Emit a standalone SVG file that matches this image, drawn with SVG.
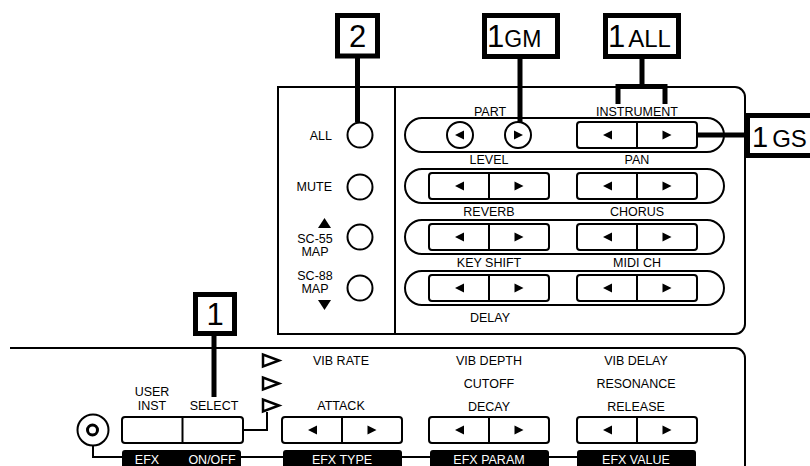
<svg xmlns="http://www.w3.org/2000/svg" xmlns:xlink="http://www.w3.org/1999/xlink" width="810" height="466" viewBox="0 0 810 466">
<style>
.pl{fill:none;stroke:#000;stroke-width:2}
.pf{fill:#fff;stroke:#000;stroke-width:2}
.t{font-family:"Liberation Sans",Arial,sans-serif;font-size:12.5px;fill:#000}
.m{text-anchor:middle}
.e{text-anchor:end}
.cb{fill:#fff;stroke:#000;stroke-width:5}
.ct{font-family:"Liberation Sans",Arial,sans-serif;fill:#000}
.cl{fill:none;stroke:#000;stroke-width:5}
.ln{fill:none;stroke:#000;stroke-width:2}
.bar{fill:#000}
.bt{font-family:"Liberation Sans",Arial,sans-serif;font-size:12.5px;fill:#fff;text-anchor:middle}
.tri{fill:#fff;stroke:#000;stroke-width:2.5;stroke-linejoin:miter}
</style>
<defs>
<g id="pair">
<rect x="0" y="0" width="120" height="26" rx="3" class="pf"/>
<line x1="60" y1="0" x2="60" y2="26" class="pl"/>
<polygon points="26,13 35,8.5 35,17.5" fill="#000"/>
<polygon points="94.5,13 85.5,8.5 85.5,17.5" fill="#000"/>
</g>
<rect id="pill" x="0" y="-17" width="319" height="34" rx="17" class="pl"/>
</defs>
<rect width="810" height="466" fill="#fff"/>

<g id="upper-panel">
<path d="M278,87 H735 A10,10 0 0 1 745,97 V324 A10,10 0 0 1 735,334 H278 Z" class="pl"/>
<line x1="395" y1="87" x2="395" y2="334" class="pl"/>
</g>

<g id="left-buttons">
<g id="btn-all"><text x="332" y="140" class="t e">ALL</text><circle cx="360" cy="135" r="12.5" class="pf"/></g>
<g id="btn-mute"><text x="332" y="191" class="t e">MUTE</text><circle cx="360" cy="187" r="12.5" class="pf"/></g>
<g id="btn-sc55"><polygon points="318,228 331,228 324.5,218" fill="#000"/><text x="315" y="243" class="t m">SC-55</text><text x="315" y="255.5" class="t m">MAP</text><circle cx="360" cy="237" r="12.5" class="pf"/></g>
<g id="btn-sc88"><text x="315" y="280" class="t m">SC-88</text><text x="315" y="293" class="t m">MAP</text><polygon points="318,300 331,300 324.5,310" fill="#000"/><circle cx="360" cy="288" r="12.5" class="pf"/></g>
</g>

<g id="row1">
<text x="490" y="116" class="t m">PART</text>
<text x="637" y="116" class="t m">INSTRUMENT</text>
<use xlink:href="#pill" x="405" y="135"/>
<circle cx="460" cy="135" r="13" class="pf"/>
<polygon points="455,135 464,130.5 464,139.5" fill="#000"/>
<circle cx="518" cy="135" r="13" class="pf"/>
<polygon points="523,135 514,130.5 514,139.5" fill="#000"/>
<use xlink:href="#pair" x="577" y="122"/>
</g>
<g id="row2">
<text x="489" y="164" class="t m">LEVEL</text>
<text x="637" y="164" class="t m">PAN</text>
<use xlink:href="#pill" x="405" y="186"/>
<use xlink:href="#pair" x="429" y="173"/>
<use xlink:href="#pair" x="577" y="173"/>
</g>
<g id="row3">
<text x="489" y="216" class="t m">REVERB</text>
<text x="637" y="216" class="t m">CHORUS</text>
<use xlink:href="#pill" x="405" y="237"/>
<use xlink:href="#pair" x="429" y="224"/>
<use xlink:href="#pair" x="577" y="224"/>
</g>
<g id="row4">
<text x="489" y="267" class="t m">KEY SHIFT</text>
<text x="637" y="267" class="t m">MIDI CH</text>
<use xlink:href="#pill" x="405" y="288"/>
<use xlink:href="#pair" x="429" y="275"/>
<use xlink:href="#pair" x="577" y="275"/>
<text x="490" y="322" class="t m">DELAY</text>
</g>

<g id="lower-panel">
<path d="M10,348 H735 A10,10 0 0 1 745,358 V470" class="pl"/>
</g>

<g id="knob">
<circle cx="93" cy="430" r="15.5" class="pf"/>
<circle cx="92.5" cy="430" r="5" fill="none" stroke="#000" stroke-width="3"/>
</g>

<g id="user-select">
<text x="152" y="396" class="t m">USER</text>
<text x="152" y="410" class="t m">INST</text>
<text x="214" y="410" class="t m">SELECT</text>
<rect x="122" y="417" width="121" height="26" rx="3" class="pf"/>
<line x1="182.5" y1="417" x2="182.5" y2="443" class="pl"/>
</g>

<g id="indicators">
<polygon points="263,354.5 263,366.5 279,360.5" class="tri"/>
<polygon points="263,377.5 263,389.5 279,383.5" class="tri"/>
<polygon points="263,399.5 263,411.5 279,405.5" class="tri"/>
</g>

<g id="efx-type">
<text x="341" y="365" class="t m">VIB RATE</text>
<text x="341" y="410" class="t m">ATTACK</text>
<use xlink:href="#pair" x="282" y="417"/>
</g>
<g id="efx-param">
<text x="489" y="365" class="t m">VIB DEPTH</text>
<text x="489" y="388" class="t m">CUTOFF</text>
<text x="489" y="411" class="t m">DECAY</text>
<use xlink:href="#pair" x="429" y="417"/>
</g>
<g id="efx-value">
<text x="636" y="365" class="t m">VIB DELAY</text>
<text x="636" y="388" class="t m">RESONANCE</text>
<text x="636" y="411" class="t m">RELEASE</text>
<use xlink:href="#pair" x="577" y="417"/>
</g>

<g id="bars">
<rect x="122" y="450" width="119" height="20" rx="3" class="bar"/>
<text x="147" y="464" class="bt">EFX</text>
<text x="212" y="464" class="bt">ON/OFF</text>
<rect x="283" y="450" width="119" height="20" rx="3" class="bar"/>
<text x="342" y="464" class="bt">EFX TYPE</text>
<rect x="430" y="450" width="119" height="20" rx="3" class="bar"/>
<text x="489" y="464" class="bt">EFX PARAM</text>
<rect x="577" y="450" width="119" height="20" rx="3" class="bar"/>
<text x="636" y="464" class="bt">EFX VALUE</text>
</g>

<g id="connectors">
<line x1="357.5" y1="57" x2="357.5" y2="122.5" class="cl"/>
<line x1="520" y1="57" x2="520" y2="122" class="cl"/>
<path d="M642,57 V86.5 M618,104 V86.5 H665 V104" class="cl"/>
<line x1="697" y1="135" x2="748" y2="135" class="cl"/>
<line x1="214" y1="333" x2="214" y2="397" class="cl"/>
<path d="M243,430 H267 V412" class="ln"/>
<path d="M93,445.5 V457 H122 M241,457 H283 M402,457 H430 M549,457 H577" class="ln"/>
</g>

<g id="callout-2">
<rect x="337.5" y="15.5" width="40" height="40.5" class="cb"/>
<text x="357.5" y="47" class="ct" font-size="31" text-anchor="middle">2</text>
</g>
<g id="callout-1gm">
<rect x="484.5" y="15.5" width="73" height="41" class="cb"/>
<text x="487" y="47" class="ct" font-size="31">1<tspan font-size="23" dx="0">GM</tspan></text>
</g>
<g id="callout-1all">
<rect x="605.5" y="15.5" width="73" height="41" class="cb"/>
<text x="608" y="47" class="ct" font-size="31">1<tspan font-size="24" dx="3">ALL</tspan></text>
</g>
<g id="callout-1gs">
<rect x="747.5" y="115.5" width="72" height="40" class="cb"/>
<text x="752" y="147" class="ct" font-size="29">1<tspan font-size="24" dx="4">GS</tspan></text>
</g>
<g id="callout-1">
<rect x="195.5" y="294.5" width="39" height="39" class="cb"/>
<text x="215" y="325" class="ct" font-size="31" text-anchor="middle">1</text>
</g>
</svg>
